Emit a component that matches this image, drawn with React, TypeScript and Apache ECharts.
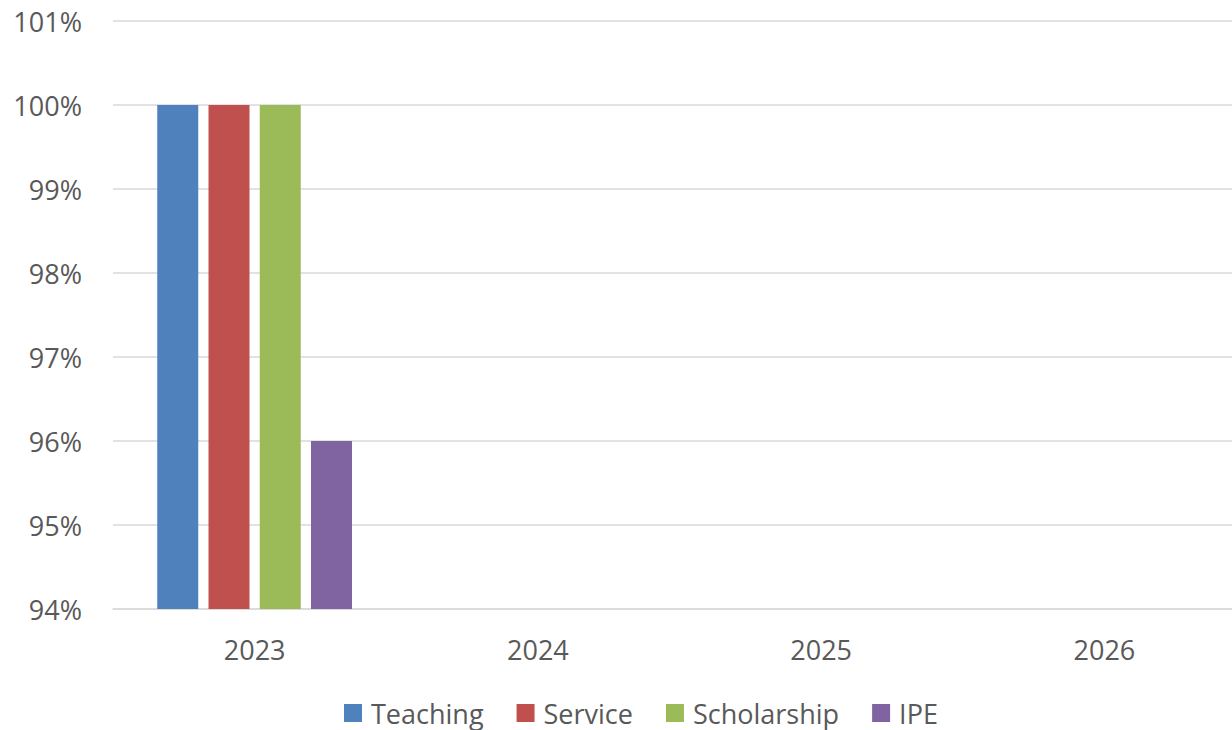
import React, { useEffect, useRef } from "react";
import * as echarts from "echarts";

const categories = ["2023", "2024", "2025", "2026"];
const teaching = [100, null, null, null];
const service = [100, null, null, null];
const scholarship = [100, null, null, null];
const ipe = [96, null, null, null];
const seriesNames = ["Teaching", "Service", "Scholarship", "IPE"];
const colors = ["#4F81BD", "#C0504D", "#9BBB59", "#8064A2"];

export default function App() {
  const ref = useRef<HTMLDivElement>(null);
  useEffect(() => {
    if (!ref.current) return;
    const chart = echarts.init(ref.current, null, { renderer: "svg" });
    const font = "'Open Sans', 'Noto Sans', sans-serif";
    const data = [teaching, service, scholarship, ipe];
    chart.setOption({
      animation: false,
      color: colors,
      textStyle: { fontFamily: font },
      grid: { left: 113, right: 0, top: 21, bottom: 121, containLabel: false },
      legend: {
        left: 344,
        top: 699,
        padding: 0,
        itemWidth: 18,
        itemHeight: 18,
        itemGap: 33,
        icon: "rect",
        textStyle: {
          fontFamily: font,
          fontSize: 27,
          lineHeight: 28,
          color: "#595959",
          padding: [0, 0, 0, 4],
        },
        data: seriesNames,
      },
      xAxis: {
        type: "category",
        data: categories,
        axisTick: { show: false },
        axisLine: { lineStyle: { color: "#D9D9D9", width: 1.5 } },
        axisLabel: { fontFamily: font, fontSize: 27, color: "#595959", margin: 27 },
      },
      yAxis: {
        type: "value",
        min: 94,
        max: 101,
        interval: 1,
        axisLine: { show: false },
        axisTick: { show: false },
        splitLine: { lineStyle: { color: "#D9D9D9", width: 1.5 } },
        axisLabel: {
          fontFamily: font,
          fontSize: 27,
          color: "#595959",
          margin: 31,
          formatter: "{value}%",
        },
      },
      series: seriesNames.map((name, i) => ({
        name,
        type: "bar",
        data: data[i],
        barWidth: 41,
        barGap: "25%",
        itemStyle: { color: colors[i] },
      })),
    });
    return () => chart.dispose();
  }, []);
  return (
    <div
      ref={ref}
      style={{ position: "fixed", left: 0, top: 0, width: 1246, height: 730, background: "#fff" }}
    />
  );
}
